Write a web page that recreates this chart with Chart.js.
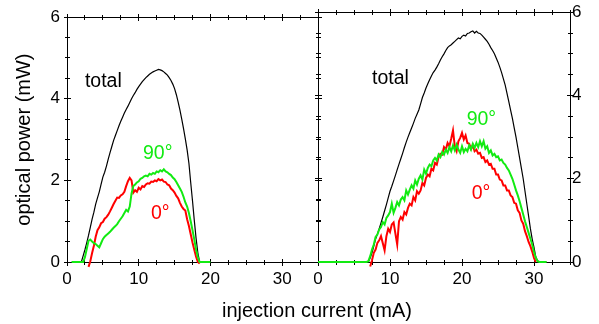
<!DOCTYPE html>
<html>
<head>
<meta charset="utf-8">
<script src="https://cdn.jsdelivr.net/npm/chart.js@4.4.0/dist/chart.umd.min.js"></script>
<style>
html,body{margin:0;padding:0;background:#fff;}
#wrap{position:relative;width:599px;height:324px;background:#fff;}
canvas{position:absolute;left:0;top:0;}
</style>
</head>
<body>
<div id="wrap">
<canvas id="c1" width="599" height="324"></canvas>
<canvas id="c2" width="599" height="324"></canvas>
</div>
<script>
// ---------- data (injection current in mA, optical power in mW) ----------
const currentLeft = [0.65, 2, 2.25, 2.5, 2.75, 3, 3.25, 3.5, 3.75, 4, 4.25, 4.5, 4.75, 5, 5.25, 5.5, 5.75, 6, 6.25, 6.5, 6.75, 7, 7.25, 7.5, 7.75, 8, 8.25, 8.5, 8.75, 9, 9.25, 9.5, 9.75, 10, 10.25, 10.5, 10.75, 11, 11.25, 11.5, 11.75, 12, 12.25, 12.5, 12.75, 13, 13.25, 13.5, 13.75, 14, 14.25, 14.5, 14.75, 15, 15.25, 15.5, 15.75, 16, 16.25, 16.5, 16.75, 17, 17.25, 17.5, 17.75, 18, 18.25, 18.5, 18.75, 19, 20];
const totalLeft = [0, 0, 0.15, 0.3, 0.47, 0.65, 0.85, 1.05, 1.22, 1.42, 1.57, 1.72, 1.9, 2.08, 2.2, 2.35, 2.52, 2.68, 2.83, 2.98, 3.1, 3.22, 3.34, 3.45, 3.55, 3.65, 3.74, 3.82, 3.91, 4.0, 4.08, 4.15, 4.23, 4.3, 4.36, 4.42, 4.47, 4.52, 4.56, 4.6, 4.63, 4.66, 4.68, 4.7, 4.72, 4.71, 4.69, 4.66, 4.62, 4.58, 4.52, 4.45, 4.36, 4.25, 4.1, 3.92, 3.72, 3.5, 3.27, 3.02, 2.75, 2.42, 1.95, 1.5, 1.02, 0.58, 0.22, 0, 0, 0, 0];
const deg90Left = [0, 0, 0, 0.12, 0.32, 0.52, 0.55, 0.5, 0.46, 0.44, 0.4, 0.36, 0.46, 0.56, 0.62, 0.66, 0.7, 0.74, 0.79, 0.84, 0.88, 0.93, 1.0, 1.06, 1.12, 1.2, 1.28, 1.24, 1.36, 1.68, 1.86, 1.9, 1.95, 1.98, 2.04, 2.06, 2.1, 2.12, 2.1, 2.16, 2.14, 2.18, 2.16, 2.22, 2.2, 2.25, 2.22, 2.27, 2.22, 2.2, 2.16, 2.13, 2.07, 2.03, 1.96, 1.88, 1.8, 1.72, 1.6, 1.46, 1.36, 1.2, 1.0, 0.78, 0.55, 0.3, 0.12, 0, 0, 0, 0];
const deg0Left = [null, null, null, null, null, -0.12, 0.02, 0.22, 0.4, 0.62, 0.78, 0.85, 0.95, 0.98, 1.06, 1.1, 1.16, 1.24, 1.33, 1.42, 1.5, 1.58, 1.57, 1.63, 1.66, 1.72, 1.86, 1.98, 2.06, 2.0, 1.7, 1.76, 1.72, 1.82, 1.78, 1.86, 1.84, 1.9, 1.93, 1.92, 1.97, 1.96, 2.0, 1.98, 2.03, 2.0, 2.02, 1.97, 1.96, 1.9, 1.88, 1.8, 1.76, 1.7, 1.62, 1.56, 1.45, 1.36, 1.3, 1.26, 1.05, 0.88, 0.68, 0.48, 0.3, 0.13, 0.0, -0.04, null, null, null];

const currentRight = [0, 6.75, 7, 7.25, 7.5, 7.75, 8, 8.25, 8.5, 8.75, 9, 9.25, 9.5, 9.75, 10, 10.25, 10.5, 10.75, 11, 11.25, 11.5, 11.75, 12, 12.25, 12.5, 12.75, 13, 13.25, 13.5, 13.75, 14, 14.25, 14.5, 14.75, 15, 15.25, 15.5, 15.75, 16, 16.25, 16.5, 16.75, 17, 17.25, 17.5, 17.75, 18, 18.25, 18.5, 18.75, 19, 19.25, 19.5, 19.75, 20, 20.25, 20.5, 20.75, 21, 21.25, 21.5, 21.75, 22, 22.25, 22.5, 22.75, 23, 23.25, 23.5, 23.75, 24, 24.25, 24.5, 24.75, 25, 25.25, 25.5, 25.75, 26, 26.25, 26.5, 26.75, 27, 27.25, 27.5, 27.75, 28, 28.25, 28.5, 28.75, 29, 29.25, 29.5, 29.75, 30, 30.25, 30.5, 30.75, 31, 31.75];
const totalRight = [0, 0, 0, 0.1, 0.22, 0.38, 0.55, 0.67, 0.8, 0.94, 1.08, 1.23, 1.38, 1.54, 1.7, 1.82, 1.95, 2.08, 2.22, 2.35, 2.48, 2.61, 2.75, 2.88, 3.0, 3.11, 3.22, 3.33, 3.45, 3.55, 3.65, 3.8, 3.95, 4.06, 4.18, 4.28, 4.38, 4.47, 4.55, 4.61, 4.68, 4.76, 4.85, 4.93, 5.0, 5.08, 5.15, 5.19, 5.22, 5.26, 5.3, 5.34, 5.38, 5.36, 5.42, 5.45, 5.43, 5.49, 5.5, 5.53, 5.55, 5.5, 5.54, 5.5, 5.49, 5.45, 5.4, 5.35, 5.3, 5.23, 5.15, 5.08, 5.0, 4.9, 4.8, 4.68, 4.55, 4.4, 4.25, 4.05, 3.85, 3.65, 3.45, 3.22, 3.0, 2.75, 2.5, 2.25, 2.0, 1.7, 1.4, 1.1, 0.8, 0.55, 0.35, 0.12, 0.03, 0, 0, 0];
const deg90Right = [0, 0, 0.02, 0.14, 0.3, 0.42, 0.6, 0.66, 0.78, 0.84, 0.96, 0.9, 1.06, 1.12, 1.2, 1.4, 1.18, 1.3, 1.44, 1.36, 1.5, 1.56, 1.48, 1.72, 1.62, 1.74, 1.84, 1.76, 1.96, 1.86, 2.0, 2.08, 1.98, 2.22, 2.12, 2.26, 2.34, 2.3, 2.44, 2.5, 2.44, 2.58, 2.52, 2.64, 2.58, 2.7, 2.62, 2.76, 2.66, 2.8, 2.68, 2.82, 2.7, 2.62, 2.78, 2.64, 2.72, 2.66, 2.8, 2.7, 2.84, 2.74, 2.86, 2.76, 2.9, 2.78, 2.9, 2.72, 2.78, 2.62, 2.68, 2.56, 2.6, 2.52, 2.54, 2.44, 2.46, 2.38, 2.34, 2.26, 2.2, 2.1, 2.0, 1.86, 1.72, 1.6, 1.46, 1.3, 1.14, 0.98, 0.84, 0.7, 0.56, 0.42, 0.24, 0.1, 0.02, 0, 0, 0];
const deg0Right = [null, null, null, -0.11, 0.04, 0.22, 0.3, 0.46, 0.52, 0.62, 0.45, 0.28, 0.62, 0.8, 0.72, 0.9, 0.95, 0.68, 0.42, 0.98, 1.08, 1.02, 1.2, 1.14, 1.3, 1.4, 1.36, 1.56, 1.48, 1.7, 1.64, 1.72, 1.9, 1.84, 2.02, 2.1, 2.06, 2.24, 2.2, 2.38, 2.34, 2.52, 2.6, 2.58, 2.76, 2.7, 2.86, 2.78, 2.96, 3.16, 2.78, 2.66, 2.9, 2.98, 3.1, 2.94, 3.04, 2.86, 2.84, 2.72, 2.8, 2.66, 2.7, 2.6, 2.62, 2.5, 2.52, 2.4, 2.44, 2.34, 2.36, 2.24, 2.24, 2.1, 2.1, 1.98, 1.96, 1.84, 1.84, 1.72, 1.72, 1.6, 1.56, 1.42, 1.4, 1.24, 1.18, 1.0, 0.92, 0.74, 0.62, 0.48, 0.38, 0.25, 0.1, 0.0, null, null, null, null];

const xTickLabels = [0, 10, 20, 30];
const yTickLabels = [0, 2, 4, 6];
const xMinorTicks = [0, 2.5, 5, 7.5, 10, 12.5, 15, 17.5, 20, 22.5, 25, 27.5, 30, 32.5, 35];
const yMinorTicks = [0, 0.5, 1, 1.5, 2, 2.5, 3, 3.5, 4, 4.5, 5, 5.5, 6];

const seriesNames = ['90°', '0°', 'total'];
const xTitle = 'injection current (mA)';
const yTitle = 'optical power (mW)';

// ---------- styling ----------
const FONT = "'Liberation Sans', Arial, Helvetica, sans-serif";
const GREEN = '#12ea12';
const RED = '#ff0000';
const BLACK = '#000000';
Chart.defaults.font.family = FONT;
Chart.defaults.color = '#000';

function pts(xs, ys) { return xs.map((x, i) => ({ x: x, y: ys[i] })); }
function crisp(p) { return Math.floor(p) + 0.5; }

const framePlugin = {
  id: 'frame',
  beforeDatasetsDraw(chart) {
    const { ctx, chartArea: a, scales: { x, y } } = chart;
    ctx.save();
    ctx.strokeStyle = '#000';
    ctx.lineWidth = 1;
    const L = crisp(a.left), R = crisp(a.right), T = crisp(a.top), B = crisp(a.bottom);
    ctx.beginPath();
    ctx.rect(L, T, R - L, B - T);
    ctx.stroke();
    ctx.beginPath();
    xMinorTicks.forEach(v => {
      const p = crisp(x.getPixelForValue(v));
      const len = xTickLabels.includes(v) ? 3.5 : 2.5;
      ctx.moveTo(p, B - len); ctx.lineTo(p, B + len);
      ctx.moveTo(p, T - len); ctx.lineTo(p, T + len);
    });
    yMinorTicks.forEach(v => {
      const p = crisp(y.getPixelForValue(v));
      const len = yTickLabels.includes(v) ? 3.5 : 2.5;
      ctx.moveTo(L - len, p); ctx.lineTo(L + len, p);
      ctx.moveTo(R - len, p); ctx.lineTo(R + len, p);
    });
    ctx.stroke();
    ctx.restore();
  }
};

const notePlugin = {
  id: 'notes',
  afterDatasetsDraw(chart, args, opts) {
    const { ctx, scales: { x, y } } = chart;
    ctx.save();
    ctx.font = '19.5px ' + FONT;
    ctx.textAlign = 'left';
    ctx.textBaseline = 'alphabetic';
    (opts.items || []).forEach(n => {
      ctx.fillStyle = n.color;
      ctx.fillText(n.text, x.getPixelForValue(n.x), y.getPixelForValue(n.y));
    });
    if (opts.xTitle) {
      ctx.font = '20px ' + FONT;
      ctx.fillStyle = '#000';
      ctx.textAlign = 'center';
      ctx.fillText(opts.xTitle.text, opts.xTitle.cx, opts.xTitle.by);
    }
    ctx.restore();
  }
};

function makeChart(id, xs, total, g90, g0, side, notes, extra) {
  const ds = (label, data, color, w) => ({
    label: label, data: pts(xs, data), borderColor: color, backgroundColor: color,
    borderWidth: w, pointRadius: 0, tension: 0, fill: false, clip: 8, spanGaps: false
  });
  const yScale = {
    type: 'linear', position: side, min: 0, max: 6,
    afterBuildTicks(s) { s.ticks = yTickLabels.map(v => ({ value: v })); },
    ticks: { font: { size: 17 }, color: '#000', padding: side === 'left' ? 7 : 2 },
    grid: { display: false, drawTicks: false },
    border: { display: false },
    afterFit(s) { s.width = side === 'left' ? 67 : 29; }
  };
  if (side === 'left') {
    yScale.title = { display: true, text: yTitle, font: { size: 20 }, color: '#000', padding: { top: 12, bottom: 0 } };
  }
  return new Chart(document.getElementById(id), {
    type: 'line',
    data: {
      datasets: [
        ds(seriesNames[0], g90, GREEN, 2),
        ds(seriesNames[1], g0, RED, 2),
        ds(seriesNames[2], total, BLACK, 1.2)
      ]
    },
    options: {
      responsive: false, animation: false, events: [],
      layout: { padding: side === 'left' ? { left: 0, right: 281, top: 11, bottom: 0 } : { left: 318, right: 0, top: 11, bottom: 0 } },
      plugins: { legend: { display: false }, tooltip: { enabled: false }, notes: Object.assign({ items: notes }, extra) },
      scales: {
        x: {
          type: 'linear', position: 'bottom', min: 0, max: 35,
          afterBuildTicks(s) { s.ticks = xTickLabels.map(v => ({ value: v })); },
          ticks: { font: { size: 17 }, color: '#000', padding: 7, maxRotation: 0, autoSkip: false },
          grid: { display: false, drawTicks: false },
          border: { display: false },
          afterFit(s) { s.height = 62; }
        },
        y: yScale
      }
    },
    plugins: [framePlugin, notePlugin]
  });
}

makeChart('c1', currentLeft, totalLeft, deg90Left, deg0Left, 'left', [
  { text: 'total', x: 2.5, y: 4.3, color: BLACK },
  { text: '90°', x: 10.6, y: 2.52, color: GREEN },
  { text: '0°', x: 11.7, y: 1.05, color: RED }
], { xTitle: { text: xTitle, cx: 317, by: 316.5 } });

makeChart('c2', currentRight, totalRight, deg90Right, deg0Right, 'right', [
  { text: 'total', x: 7.5, y: 4.27, color: BLACK },
  { text: '90°', x: 20.65, y: 3.28, color: GREEN },
  { text: '0°', x: 21.35, y: 1.52, color: RED }
], {});
</script>
</body>
</html>
